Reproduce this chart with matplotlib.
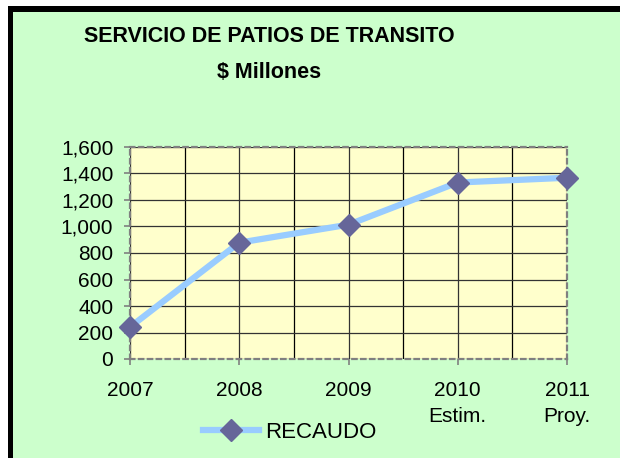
import matplotlib
matplotlib.use("Agg")
import matplotlib.pyplot as plt
from matplotlib.patches import Rectangle
from matplotlib.ticker import MultipleLocator, FuncFormatter

# datos
years = ["2007", "2008", "2009", "2010\nEstim.", "2011\nProy."]
recaudo = [241, 878, 1014, 1332, 1368]

plt.rcParams['font.family'] = ['Liberation Sans', 'DejaVu Sans']

W, H = 620, 458
fig = plt.figure(figsize=(W / 100, H / 100), dpi=100)
fig.patch.set_facecolor("white")

# fondo verde con borde negro (izquierda y arriba)
fig.patches.append(Rectangle((8 / W, 0), 1, 1 - 6 / H, transform=fig.transFigure,
                             facecolor="#CCFFCC", edgecolor="none", zorder=-2))
fig.patches.append(Rectangle((8 / W, 0), 5 / W, 1 - 6 / H, transform=fig.transFigure,
                             facecolor="black", edgecolor="none", zorder=-1))
fig.patches.append(Rectangle((8 / W, 1 - 12 / H), 1, 6 / H, transform=fig.transFigure,
                             facecolor="black", edgecolor="none", zorder=-1))

ax = fig.add_axes([130 / W, 1 - 359 / H, 437 / W, 212 / H])
ax.set_facecolor("#FFFFCC")

x = list(range(len(years)))
line, = ax.plot(x, recaudo, color="#99CCFF", lw=4.5, marker="D", ms=11.5,
                markerfacecolor="#666699", markeredgecolor="#666699",
                clip_on=False, zorder=5, label="RECAUDO")

ax.set_xlim(0, len(years) - 1)
ax.set_ylim(0, 1600)
ax.yaxis.set_major_locator(MultipleLocator(200))
ax.yaxis.set_major_formatter(FuncFormatter(lambda v, p: f"{int(v):,}"))
ax.set_xticks(x)
ax.set_xticklabels(years, linespacing=1.45)
ax.set_xticks([i + 0.5 for i in x[:-1]], minor=True)

ax.grid(True, which="major", color="#333333", lw=0.9)
ax.grid(True, which="minor", axis="x", color="black", lw=0.9)
ax.set_axisbelow(True)

for s in ax.spines.values():
    s.set_color("#808080")
    s.set_linestyle((0, (2, 2)))
    s.set_linewidth(1.6)

ax.tick_params(axis="both", which="major", labelsize=15, color="#808080",
               length=4, width=1.2, direction="out")
ax.tick_params(axis="x", which="minor", length=0)
ax.tick_params(axis="x", pad=12)
ax.tick_params(axis="y", pad=8)

tx = 269 / W
fig.text(tx, 1 - 37 / H, "SERVICIO DE PATIOS DE TRANSITO", ha="center", va="center",
         fontsize=15.5, fontweight="bold")
fig.text(tx, 1 - 72 / H, "$ Millones", ha="center", va="center",
         fontsize=15.5, fontweight="bold")

fig.legend(handles=[line], loc="center", bbox_to_anchor=(290 / W, 1 - 432 / H),
           frameon=False, fontsize=16, handlelength=2.5, handletextpad=0.3)

fig.savefig("out.png", dpi=100, facecolor=fig.get_facecolor())
